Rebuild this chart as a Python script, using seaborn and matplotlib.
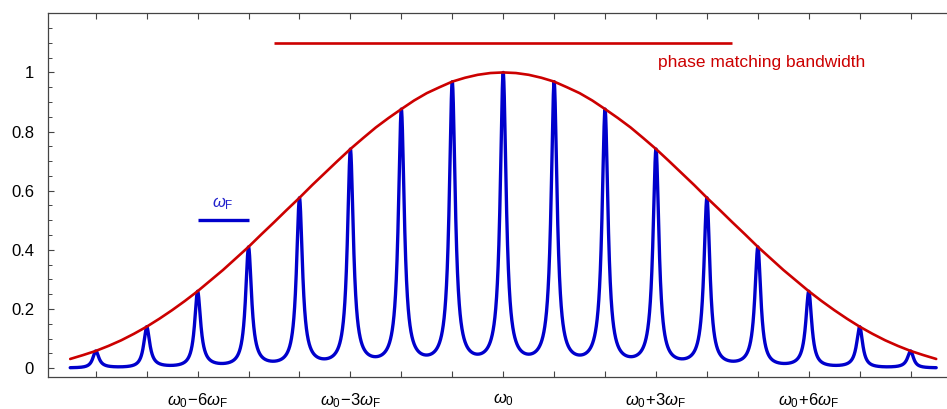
import numpy as np
import pandas as pd
import matplotlib
matplotlib.use("Agg")
import matplotlib.pyplot as plt
from matplotlib.ticker import FixedLocator, FixedFormatter
import seaborn as sns

# Phase-matching envelope sampled every quarter comb spacing (offset in units of omega_F)
env_offsets = [-8.5, -8.25, -8.0, -7.75, -7.5, -7.25, -7.0, -6.75, -6.5, -6.25,
               -6.0, -5.75, -5.5, -5.25, -5.0, -4.75, -4.5, -4.25, -4.0, -3.75,
               -3.5, -3.25, -3.0, -2.75, -2.5, -2.25, -2.0, -1.75, -1.5, -1.25,
               -1.0, -0.75, -0.5, -0.25, 0.0, 0.25, 0.5, 0.75, 1.0, 1.25,
               1.5, 1.75, 2.0, 2.25, 2.5, 2.75, 3.0, 3.25, 3.5, 3.75,
               4.0, 4.25, 4.5, 4.75, 5.0, 5.25, 5.5, 5.75, 6.0, 6.25,
               6.5, 6.75, 7.0, 7.25, 7.5, 7.75, 8.0, 8.25, 8.5]
env_values = [0.031, 0.044, 0.058, 0.075, 0.094, 0.116, 0.140, 0.167, 0.196, 0.227,
              0.260, 0.296, 0.332, 0.371, 0.410, 0.452, 0.493, 0.535, 0.576, 0.619,
              0.660, 0.701, 0.741, 0.778, 0.814, 0.846, 0.876, 0.905, 0.930, 0.950,
              0.969, 0.982, 0.992, 0.998, 1.000, 0.998, 0.992, 0.982, 0.969, 0.950,
              0.930, 0.905, 0.876, 0.846, 0.814, 0.778, 0.741, 0.701, 0.660, 0.619,
              0.576, 0.535, 0.493, 0.452, 0.410, 0.371, 0.332, 0.296, 0.260, 0.227,
              0.196, 0.167, 0.140, 0.116, 0.094, 0.075, 0.058, 0.044, 0.031]

# Comb tick positions and their labels
comb_ticks = list(range(-8, 9))
comb_tick_labels = {
    -6: r"$\omega_0\!-\!6\omega_\mathrm{F}$",
    -3: r"$\omega_0\!-\!3\omega_\mathrm{F}$",
    0: r"$\omega_0$",
    3: r"$\omega_0\!+\!3\omega_\mathrm{F}$",
    6: r"$\omega_0\!+\!6\omega_\mathrm{F}$",
}
y_major = [0.0, 0.2, 0.4, 0.6, 0.8, 1.0]
y_major_labels = ["0", "0.2", "0.4", "0.6", "0.8", "1"]

# Annotation bars
bandwidth_span = [-4.5, 4.5]
bandwidth_level = 1.1
spacing_span = [-6.0, -5.0]
spacing_level = 0.5

RED = "#cc0000"
BLUE = "#0000cc"
finesse_coeff = 20.0

sns.set_theme(style="ticks")
plt.rcParams["font.family"] = ["Liberation Sans", "DejaVu Sans"]
plt.rcParams["mathtext.fontset"] = "custom"
plt.rcParams["mathtext.rm"] = "Liberation Sans"
plt.rcParams["mathtext.it"] = "Liberation Sans:italic"
plt.rcParams["mathtext.bf"] = "Liberation Sans:bold"

fig = plt.figure(figsize=(9.47, 4.09), dpi=100)
ax = fig.add_axes([48 / 947, (409 - 377) / 409, 1 - 48 / 947, (377 - 13.3) / 409])

# Envelope curve
env_df = pd.DataFrame({"offset": env_offsets, "value": env_values})
# Comb transmission: each tooth follows the envelope, Airy line shape between teeth
xs = np.linspace(env_offsets[0], env_offsets[-1], 8001)
envelope_dense = np.interp(xs, env_offsets, env_values)
comb = envelope_dense / (1.0 + finesse_coeff * np.sin(np.pi * xs) ** 2)
comb_df = pd.DataFrame({"offset": xs, "value": comb})

sns.lineplot(data=comb_df, x="offset", y="value", color=BLUE, linewidth=2.4,
             sort=False, errorbar=None, ax=ax, zorder=2)
sns.lineplot(data=env_df, x="offset", y="value", color=RED, linewidth=1.9,
             sort=False, errorbar=None, ax=ax, zorder=3)

# Bandwidth and comb spacing markers
ax.plot(bandwidth_span, [bandwidth_level] * 2, color=RED, linewidth=1.9,
        solid_capstyle="butt")
ax.text(3.04, 1.02, "phase matching bandwidth", color=RED, fontsize=12.5,
        ha="left", va="baseline")
ax.plot(spacing_span, [spacing_level] * 2, color=BLUE, linewidth=2.4,
        solid_capstyle="butt")
ax.text(np.mean(spacing_span), 0.545, r"$\omega_\mathrm{F}$", color="#2222cc",
        fontsize=12, ha="center", va="baseline")

ax.set_xlim((48 - 503.2) / 50.94, (947 - 503.2) / 50.94)
ax.set_ylim(-0.03, 1.2)

ax.xaxis.set_major_locator(FixedLocator(comb_ticks))
ax.xaxis.set_major_formatter(FixedFormatter([comb_tick_labels.get(t, "") for t in comb_ticks]))
ax.yaxis.set_major_locator(FixedLocator(y_major))
ax.yaxis.set_major_formatter(FixedFormatter(y_major_labels))
ax.yaxis.set_minor_locator(FixedLocator([v for v in np.arange(0.05, 1.19, 0.05)
                                         if abs(v / 0.2 - round(v / 0.2)) > 1e-6]))

frame = "#444444"
for side in ["left", "bottom", "top"]:
    ax.spines[side].set_visible(True)
    ax.spines[side].set_color(frame)
    ax.spines[side].set_linewidth(0.9)
ax.spines["right"].set_visible(False)

ax.tick_params(axis="x", which="major", direction="in", length=4, width=0.8,
               color=frame, top=True, bottom=True, labelsize=12, pad=10,
               labelcolor="black")
ax.tick_params(axis="y", which="major", direction="in", length=4.5, width=0.8,
               color=frame, left=True, right=False, labelsize=12, pad=10,
               labelcolor="black")
ax.tick_params(axis="y", which="minor", direction="in", length=2.8, width=0.7,
               color=frame, left=True, right=False)

ax.set_xlabel("")
ax.set_ylabel("")
ax.grid(False)

fig.savefig("out.png", dpi=100)
